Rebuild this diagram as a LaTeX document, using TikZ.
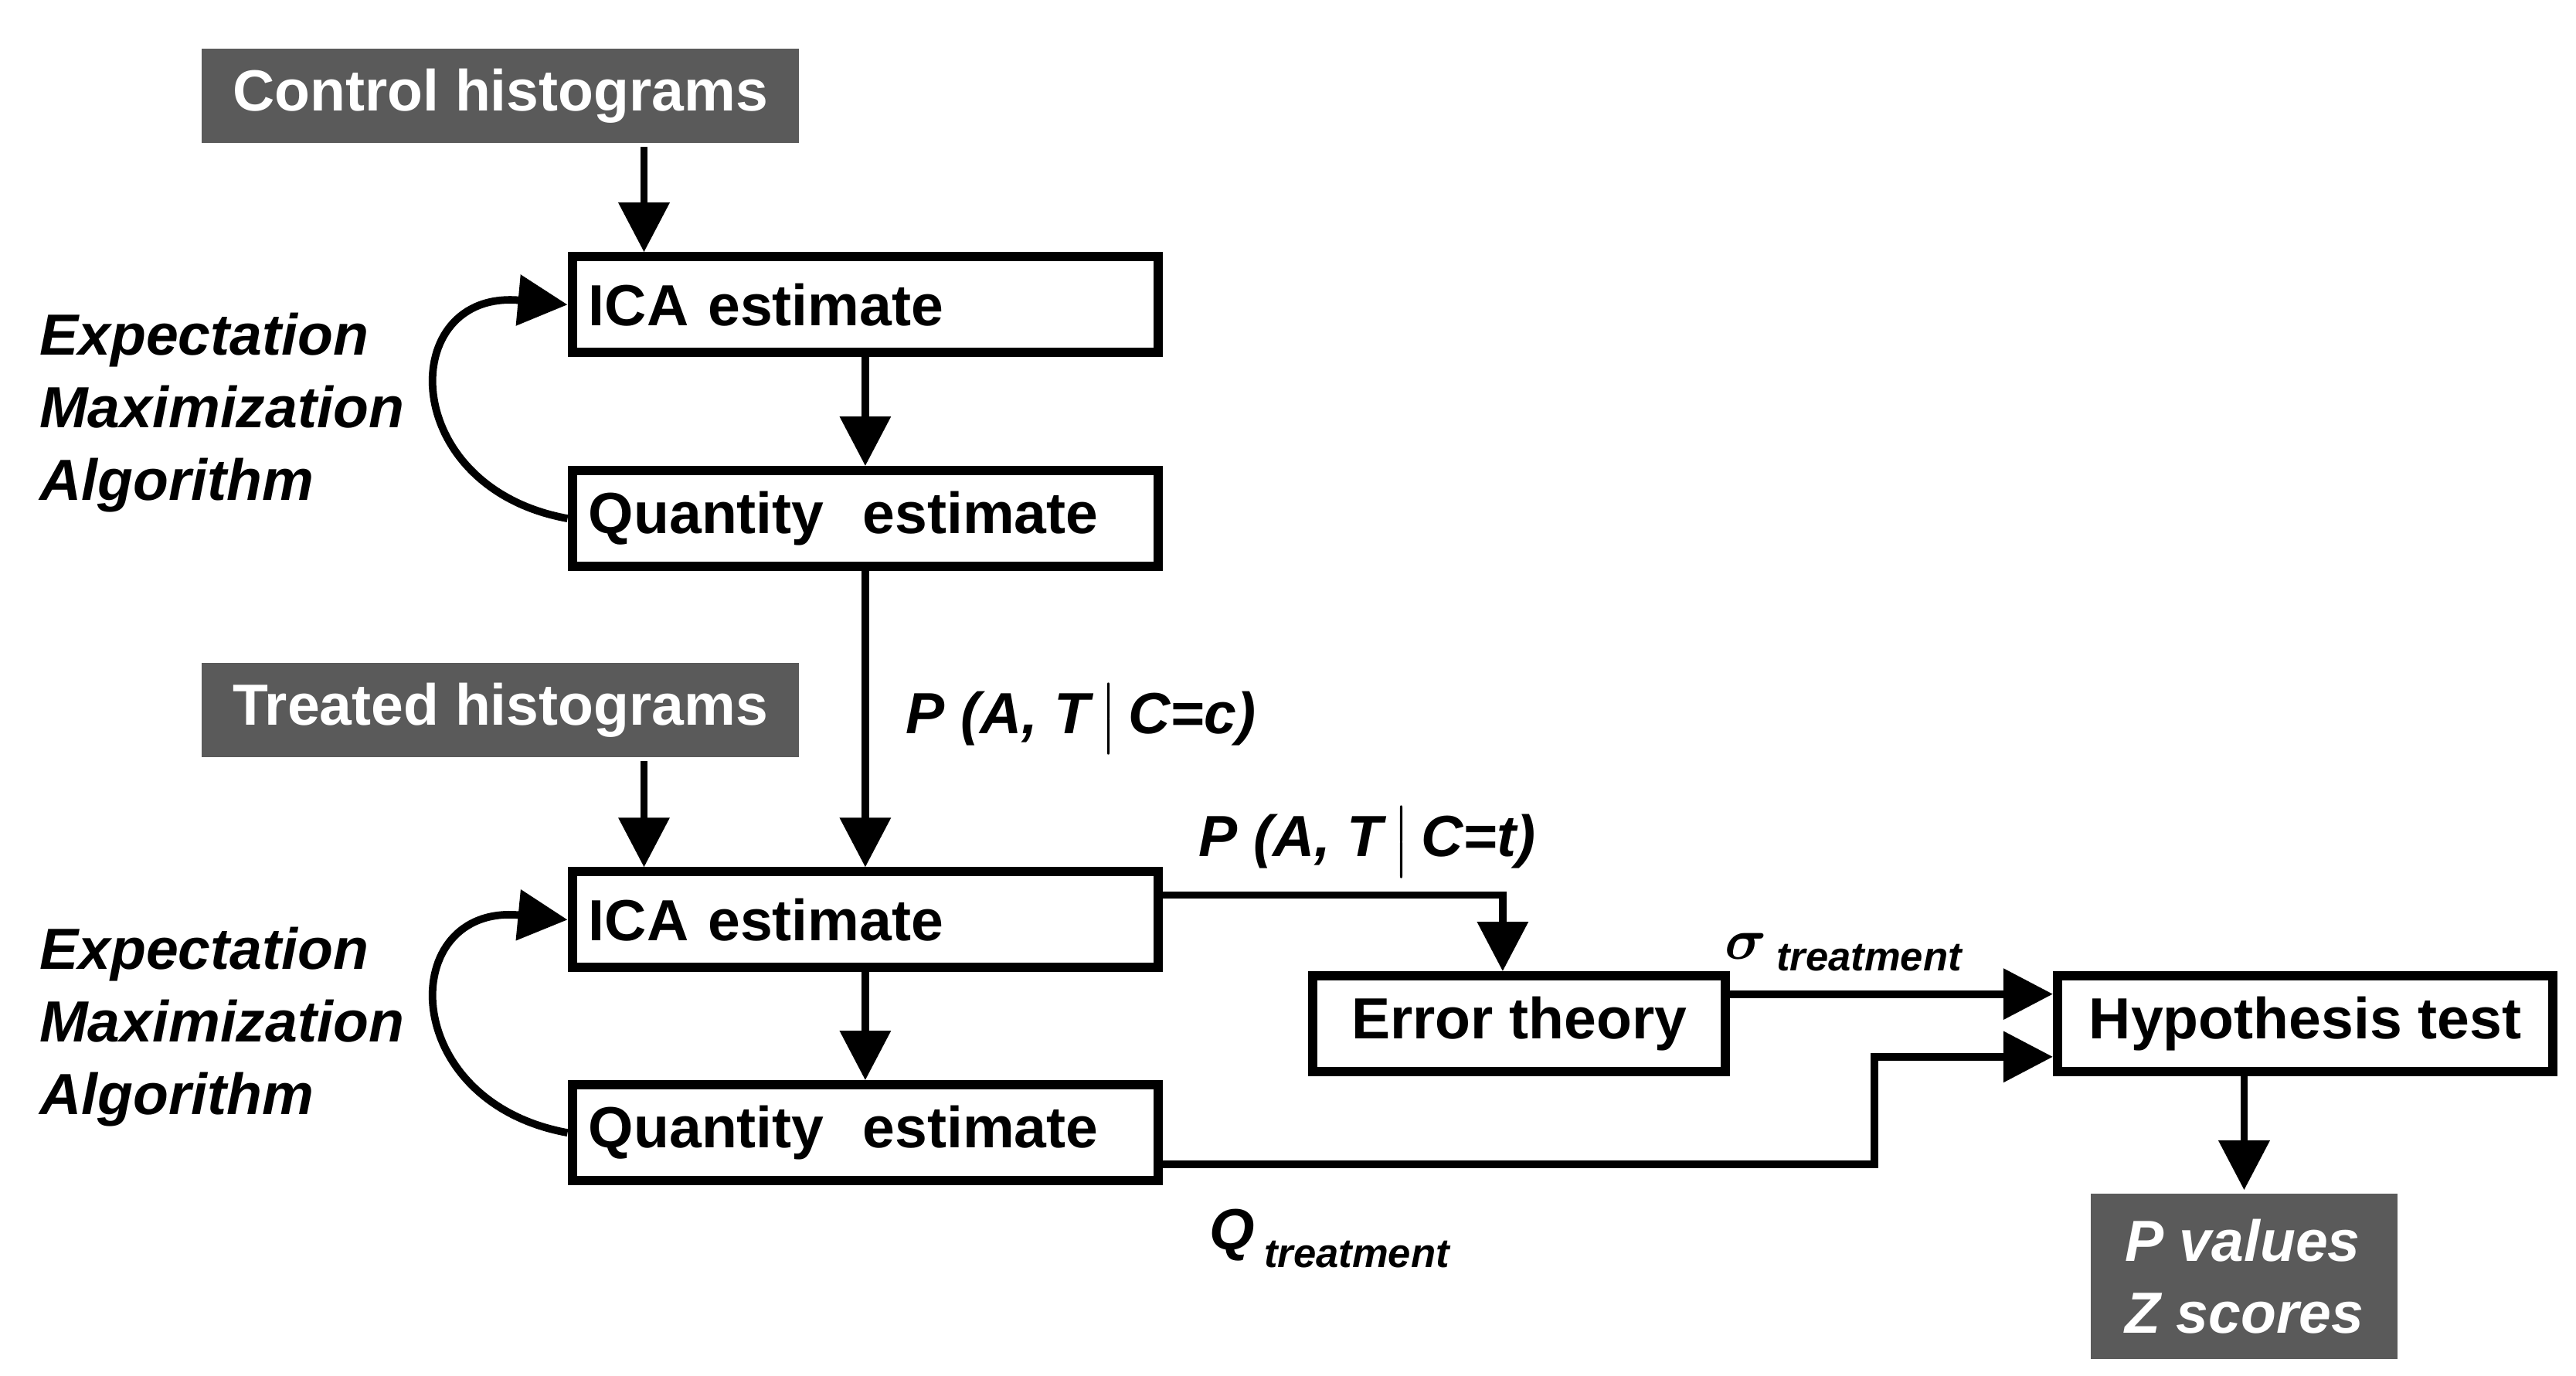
\documentclass[tikz,border=0pt]{standalone}
\usepackage{amsmath}
\usepackage{fontspec}
\setmainfont{Liberation Sans}
\usetikzlibrary{calc,positioning,arrows.meta}
\definecolor{darkbox}{HTML}{5A5A5A}
\begin{document}
\begin{tikzpicture}[>={Triangle[length=0.3cm,width=0.3cm]}, line width=1.3pt,
  every node/.style={font=\fontsize{10}{12}\selectfont\bfseries},
  stage/.style={rectangle, draw, line width=1.6pt, minimum width=3.55cm, minimum height=0.58cm, inner sep=1pt},
  data/.style={rectangle, fill=darkbox, text=white, minimum height=0.57cm, inner sep=2pt}]

    % frame
    \useasboundingbox (0,0) rectangle (15.6,-8.33);

    % inputs
    \draw (3.03,-0.58) node[data, minimum width=3.62cm] (CH) {Control histograms};
    \draw (3.03,-4.3) node[data, minimum width=3.62cm] (TH) {Treated histograms};

    % control stage
    \draw (5.24,-1.845) node[stage, text width=3.35cm] (ICA1) {ICA estimate};
    \draw (5.24,-3.14) node[stage, text width=3.35cm] (Q1) {Quantity\ \ estimate};
    \draw (0.1,-2.5) node[right, align=left, font=\fontsize{10}{12.5}\selectfont\bfseries\itshape] (EM1) {Expectation\\Maximization\\Algorithm};

    % treated stage
    \draw (5.24,-5.57) node[stage, text width=3.35cm] (ICA2) {ICA estimate};
    \draw (5.24,-6.86) node[stage, text width=3.35cm] (Q2) {Quantity\ \ estimate};
    \draw (0.1,-6.22) node[right, align=left, font=\fontsize{10}{12.5}\selectfont\bfseries\itshape] (EM2) {Expectation\\Maximization\\Algorithm};

    % outputs
    \draw (9.2,-6.2) node[stage, minimum width=2.5cm] (ET) {Error theory};
    \draw (13.96,-6.2) node[stage, minimum width=3.0cm] (HT) {Hypothesis test};
    \draw (13.59,-7.73) node[data, minimum width=1.86cm, minimum height=1.0cm, align=left, font=\fontsize{10}{12.5}\selectfont\bfseries\itshape] (PV) {P values\\Z scores};

    % lines
    \draw[->] (CH.south -| 3.9,0) -- (ICA1.north -| 3.9,0);
    \draw[->] (ICA1) -- (Q1);
    \draw[->] (Q1.west) .. controls (2.4,-2.95) and (2.4,-1.75) .. (ICA1.west);
    \draw[->] (Q1) -- node[right, font=\fontsize{10}{12}\selectfont\bfseries\itshape, xshift=3pt] {P (A, T\,$\big|$\,C=c)} (ICA2);
    \draw[->] (TH.south -| 3.9,0) -- (ICA2.north -| 3.9,0);
    \draw[->] (ICA2) -- (Q2);
    \draw[->] (Q2.west) .. controls (2.4,-6.67) and (2.4,-5.47) .. (ICA2.west);
    \draw[->] (ICA2.east |- 0,-5.42) -| (ET.north -| 9.1,0);
    \draw (7.12,-5.1) node[right, font=\fontsize{10}{12}\selectfont\bfseries\itshape] (PT) {P (A, T\,$\big|$\,C=t)};
    \draw[->] (ET.east |- 0,-6.02) -- node[above, pos=0.35, font=\fontsize{10}{12}\selectfont\bfseries\itshape] {$\boldsymbol\sigma$\,{\fontsize{7}{8}\selectfont\raisebox{-2pt}{treatment}}} (HT.west |- 0,-6.02);
    \draw[->] (Q2.east |- 0,-7.05) -- (11.35,-7.05) |- (HT.west |- 0,-6.4);
    \draw (8.05,-7.5) node[font=\fontsize{10}{12}\selectfont\bfseries\itshape] (QT) {Q\,{\fontsize{7}{8}\selectfont\raisebox{-3pt}{treatment}}};
    \draw[->] (HT.south -| PV.north) -- (PV.north);

  \end{tikzpicture}
\end{document}
